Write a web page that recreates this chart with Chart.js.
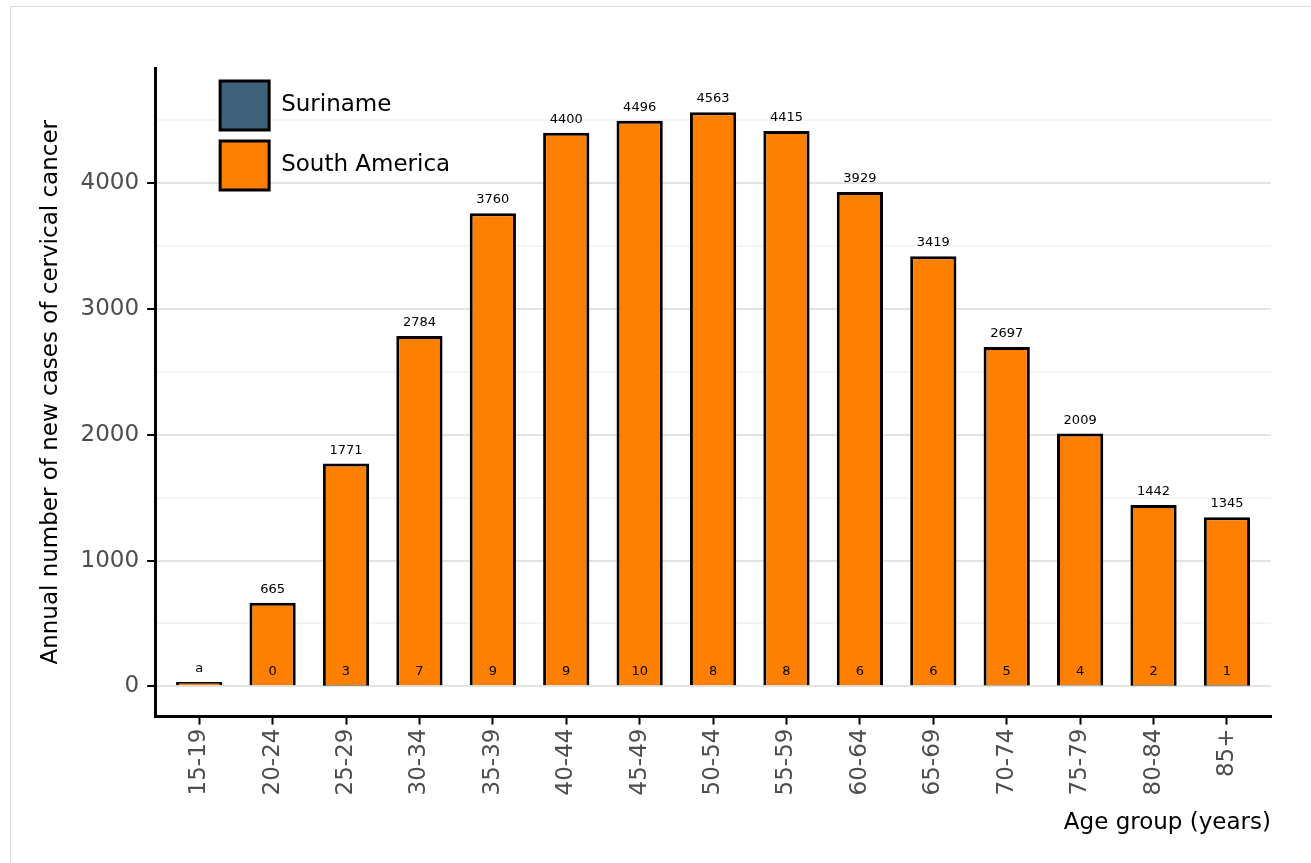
<!DOCTYPE html>
<html>
<head>
<meta charset="utf-8">
<script src="https://cdn.jsdelivr.net/npm/chart.js@4.4.0/dist/chart.umd.min.js"></script>
<style>
    html, body { margin: 0; padding: 0; background: #fff; overflow: hidden; }
    .frame {
        position: absolute;
        left: 10px;
        top: 6px;
        width: 1400px;
        height: 1000px;
        border: 1px solid #dcdcdc;
    }
    .wrap {
        position: absolute;
        left: 0;
        top: 0;
        width: 1311px;
        height: 863px;
    }
</style>
</head>
<body>
<div class="frame"></div>
<div class="wrap"><canvas id="casesChart" width="1311" height="863"></canvas></div>
<script>
// ===== DATA ===== //
const ageGroups = ['15-19', '20-24', '25-29', '30-34', '35-39', '40-44', '45-49', '50-54',
    '55-59', '60-64', '65-69', '70-74', '75-79', '80-84', '85+'];
const surinameCases = [null, 0, 3, 7, 9, 9, 10, 8, 8, 6, 6, 5, 4, 2, 1];
const southAmericaCases = [35, 665, 1771, 2784, 3760, 4400, 4496, 4563, 4415, 3929, 3419, 2697, 2009, 1442, 1345];
const southAmericaLabels = ['a', '665', '1771', '2784', '3760', '4400', '4496', '4563', '4415',
    '3929', '3419', '2697', '2009', '1442', '1345'];
const yTicks = [0, 1000, 2000, 3000, 4000];

const FONT = "'DejaVu Sans', sans-serif";

// ===== PLUGINS ===== //
const barLabels = {
    id: 'barLabels',
    afterDatasetsDraw(chart) {
        const { ctx, scales: { y } } = chart;
        ctx.save();
        ctx.font = '13px ' + FONT;
        ctx.fillStyle = '#000';
        ctx.textAlign = 'center';
        ctx.textBaseline = 'alphabetic';

        // South America: above each bar
        chart.getDatasetMeta(1).data.forEach((bar, i) => {
            ctx.fillText(southAmericaLabels[i], bar.x, bar.y - 10);
        });

        // Suriname: inside the bottom of the bar
        chart.getDatasetMeta(0).data.forEach((bar, i) => {
            const v = surinameCases[i];
            if (v === null) return;
            ctx.fillText(String(v), bar.x, y.getPixelForValue(0) - 11);
        });
        ctx.restore();
    }
};

const boxLegend = {
    id: 'boxLegend',
    afterDraw(chart) {
        const { ctx, chartArea } = chart;
        const size = 49;
        ctx.save();
        chart.data.datasets.forEach((ds, i) => {
            const bx = chartArea.left + 65;
            const by = chartArea.top + 13 + i * 60;
            ctx.fillStyle = ds.backgroundColor;
            ctx.fillRect(bx, by, size, size);
            ctx.strokeStyle = '#000';
            ctx.lineWidth = 3;
            ctx.strokeRect(bx, by, size, size);
            ctx.fillStyle = '#000';
            ctx.font = '23px ' + FONT;
            ctx.textAlign = 'left';
            ctx.textBaseline = 'middle';
            ctx.fillText(ds.label, bx + size + 12, by + size / 2);
        });
        ctx.restore();
    }
};

// ===== CHART ===== //
document.addEventListener('DOMContentLoaded', () => {
    const ctx = document.getElementById('casesChart').getContext('2d');

    new Chart(ctx, {
        type: 'bar',
        data: {
            datasets: [
                {
                    label: 'Suriname',
                    data: surinameCases.map((v, i) => ({ x: i, y: v })),
                    backgroundColor: '#3f6079',
                    borderColor: '#000',
                    borderWidth: 3
                },
                {
                    label: 'South America',
                    data: southAmericaCases.map((v, i) => ({ x: i, y: v })),
                    backgroundColor: '#ff7f00',
                    borderColor: '#000',
                    borderWidth: 3
                }
            ]
        },
        options: {
            responsive: false,
            animation: false,
            grouped: false,
            barPercentage: 0.63,
            categoryPercentage: 1,
            layout: { padding: { left: 33, right: 40, top: 68, bottom: 22 } },
            plugins: {
                legend: { display: false },
                tooltip: { enabled: false }
            },
            scales: {
                x: {
                    type: 'linear',
                    offset: false,
                    min: -0.6,
                    max: 14.6,
                    afterBuildTicks: scale => {
                        scale.ticks = ageGroups.map((_, i) => ({ value: i }));
                    },
                    ticks: {
                        autoSkip: false,
                        minRotation: 90,
                        maxRotation: 90,
                        padding: 4,
                        color: '#4d4d4d',
                        font: { family: FONT, size: 23 },
                        callback: value => ageGroups[value]
                    },
                    grid: {
                        offset: false,
                        drawOnChartArea: false,
                        drawTicks: true,
                        tickLength: 8,
                        tickColor: '#000',
                        tickWidth: 2
                    },
                    border: { display: true, color: '#000', width: 3 },
                    title: {
                        display: true,
                        text: 'Age group (years)',
                        align: 'end',
                        color: '#000',
                        font: { family: FONT, size: 23 },
                        padding: { top: 10 }
                    }
                },
                y: {
                    min: -240,
                    max: 4915,
                    afterBuildTicks: scale => {
                        const all = [];
                        for (let v = 0; v <= 4500; v += 500) all.push({ value: v });
                        scale.ticks = all;
                    },
                    ticks: {
                        padding: 8,
                        color: '#4d4d4d',
                        font: { family: FONT, size: 23 },
                        callback: value => (yTicks.includes(value) ? String(value) : '')
                    },
                    grid: {
                        color: c => (yTicks.includes(c.tick.value) ? '#e3e3e3' : '#f4f4f4'),
                        lineWidth: 2,
                        tickLength: 8,
                        tickColor: c => (yTicks.includes(c.tick.value) ? '#000' : 'rgba(0,0,0,0)'),
                        tickWidth: 2
                    },
                    border: { display: true, color: '#000', width: 3 },
                    title: {
                        display: true,
                        text: 'Annual number of new cases of cervical cancer',
                        color: '#000',
                        font: { family: FONT, size: 23 },
                        padding: { bottom: 8 }
                    }
                }
            }
        },
        plugins: [barLabels, boxLegend]
    });
});
</script>
</body>
</html>
